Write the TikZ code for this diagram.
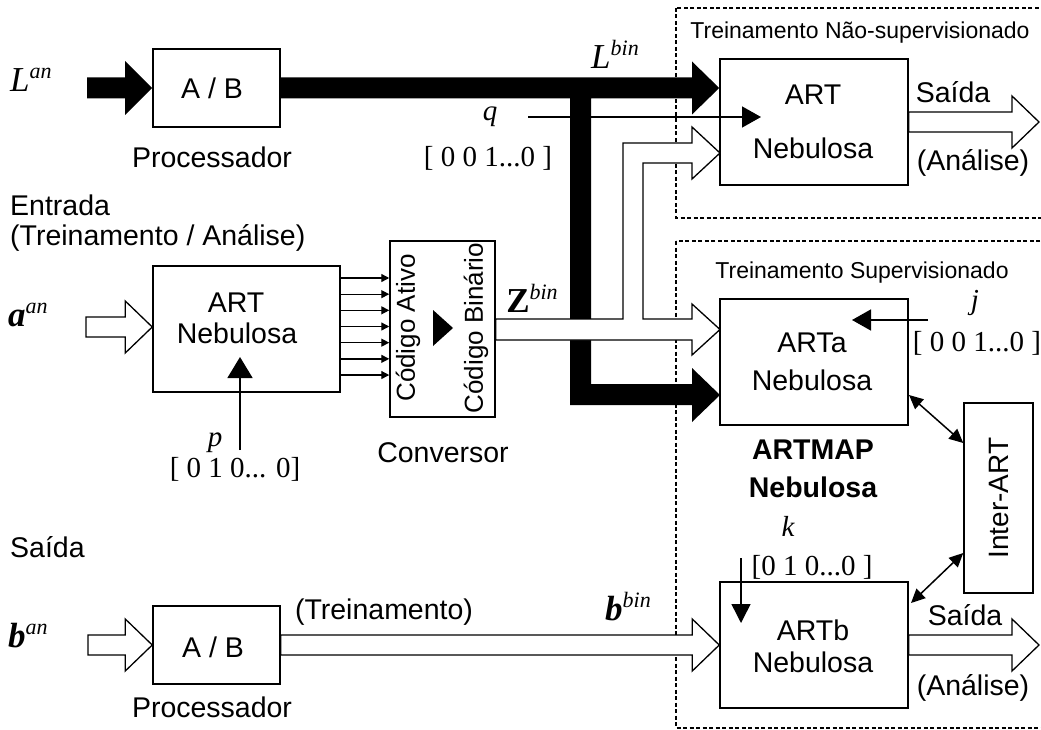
\documentclass[tikz,border=0pt]{standalone}
\usepackage{fontspec}
\setmainfont{Liberation Sans}
\newfontfamily\tm{Liberation Serif}
\usetikzlibrary{arrows.meta,calc}
\newcommand{\supl}[2]{{#1}\raisebox{13pt}{\fontsize{22}{22}\selectfont\mdseries\itshape #2}}
\newcommand{\harrow}[2]{\draw[hollow] ($(#1)+(0,-10)$) -- ($(#2)+(-27,-10)$) -- ($(#2)+(-27,-26)$) -- (#2) -- ($(#2)+(-27,26)$) -- ($(#2)+(-27,10)$) -- ($(#1)+(0,10)$) -- cycle;}
\begin{document}
\begin{tikzpicture}[x=1pt,y=-1pt,
  box/.style={draw, line width=1.5pt, inner sep=0pt, fill=white},
  lab/.style={font=\fontsize{28.5}{29}\selectfont, inner sep=0pt},
  blab/.style={font=\fontsize{28.5}{29}\selectfont\bfseries, inner sep=0pt},
  slab/.style={font=\fontsize{23}{24}\selectfont, inner sep=0pt},
  rlab/.style={font=\fontsize{26}{27}\selectfont, inner sep=0pt, rotate=90},
  tml/.style={font=\fontsize{29}{30}\selectfont\tm, inner sep=0pt},
  tmb/.style={font=\fontsize{35}{36}\selectfont\tm, inner sep=0pt},
  hollow/.style={draw, fill=white, line width=1.3pt, line join=miter},
  thinarr/.style={line width=1.5pt},
  dblarr/.style={line width=1.5pt, {Triangle[length=14pt,width=13pt]}-{Triangle[length=14pt,width=13pt]}},
  dashbox/.style={draw, line width=1.2pt, dash pattern=on 4pt off 2.5pt}]
\useasboundingbox (0,0) rectangle (1041,730);
\clip (0,0) rectangle (1041,730);

% dashed regions
\draw[dashbox] (676,8) rectangle (1060,218);
\draw[dashbox] (676,241) rectangle (1060,728);
\node[slab] (tns) at (860,33) {Treinamento Não-supervisionado};
\node[slab] (ts) at (862,273) {Treinamento Supervisionado};

% boxes
\node[box, minimum width=127pt, minimum height=78pt] (ab1) at (216.5,88) {};
\node[box, minimum width=187pt, minimum height=126pt] (art1) at (246.5,329) {};
\node[box, minimum width=105pt, minimum height=176pt] (conv) at (442.5,329) {};
\node[box, minimum width=188pt, minimum height=126pt] (artu) at (814,122) {};
\node[box, minimum width=188pt, minimum height=126pt] (arta) at (814,362) {};
\node[box, minimum width=188pt, minimum height=126pt] (artb) at (814,645) {};
\node[box, minimum width=69pt, minimum height=190pt] (inter) at (998.5,498) {};
\node[box, minimum width=127pt, minimum height=78pt] (ab2) at (216.5,645) {};

% box texts
\node[lab] (t-ab1) at (212,88) {A / B};
\node[lab] (t-proc1) at (212,157) {Processador};
\node[lab, anchor=west] (t-entr) at (10,205) {Entrada};
\node[lab, anchor=west] (t-ta) at (10,238) {(Treinamento / Análise)};
\node[lab] (t-art1a) at (236,303) {ART};
\node[lab] (t-art1b) at (237,333) {Nebulosa};
\node[rlab] (t-cat) at (408,328) {Código Ativo};
\node[rlab] (t-cbi) at (476,328) {Código Binário};
\node[lab] (t-conv) at (443,453) {Conversor};
\node[lab] (t-artu1) at (813,95) {ART};
\node[lab] (t-artu2) at (813,148) {Nebulosa};
\node[lab] (t-sai1) at (953,92) {Saída};
\node[lab] (t-ana1) at (973,163) {(Análise)};
\node[lab] (t-arta1) at (812,343) {ARTa};
\node[lab] (t-arta2) at (812,380) {Nebulosa};
\node[blab] (t-am1) at (813,450) {ARTMAP};
\node[blab] (t-am2) at (813,487) {Nebulosa};
\node[rlab, font=\fontsize{28}{29}\selectfont] (t-inter) at (998.5,498) {Inter-ART};
\node[lab] (t-artb1) at (813,630) {ARTb};
\node[lab] (t-artb2) at (813,662) {Nebulosa};
\node[lab] (t-sai2) at (965,615) {Saída};
\node[lab] (t-ana2) at (973,688) {(Análise)};
\node[lab, anchor=west] (t-sai0) at (10,547) {Saída};
\node[lab] (t-trein) at (384,612) {(Treinamento)};
\node[lab] (t-ab2) at (213,647) {A / B};
\node[lab] (t-proc2) at (212,707) {Processador};

% math-like labels
\node[tmb, anchor=west] (l-lan) at (10,80) {\supl{\itshape L}{an}};
\node[tmb] (l-lbin) at (615,54) {\supl{\itshape L}{bin}};
\node[tmb, anchor=west] (l-aan) at (8,315) {\supl{\bfseries\itshape a}{an}};
\node[tmb, anchor=west] (l-ban) at (8,636) {\supl{\bfseries\itshape b}{an}};
\node[tmb] (l-zbin) at (532,298) {\supl{\bfseries Z}{bin}};
\node[tmb] (l-bbin) at (628,607) {\supl{\bfseries\itshape b}{bin}};
\node[tml] (l-q) at (490,117) {\itshape q};
\node[tml] (l-qv) at (488,158) {[ 0 0 1...0 ]};
\node[tml] (l-p) at (215,443) {\itshape p};
\node[tml] (l-pv) at (235,469) {[ 0 1 0... 0]};
\node[tml] (l-j) at (975,303) {\itshape j};
\node[tml] (l-jv) at (977,343) {[ 0 0 1...0 ]};
\node[tml] (l-k) at (788,526) {\itshape k};
\node[tml] (l-kv) at (812,567) {[0 1 0...0 ]};

% black L arrows
\coordinate (lin) at (87,88);
\fill[black] ($(lin)+(0,-10.5)$) -- (125,77.5) -- (125,61) -- (ab1.west) -- (125,115) -- (125,98.5) -- ($(lin)+(0,10.5)$) -- cycle;
\fill[black] ($(ab1.east)+(0,-10.5)$) -- (692,77.5) -- (692,61.5) -- (artu.west |- ab1.east) -- (692,114.5) -- (692,98.5) -- (591,98.5) -- (591,384) -- (692,384) -- (692,368) -- (720,395) -- (692,422) -- (692,405) -- (570,405) -- (570,98.5) -- ($(ab1.east)+(0,10.5)$) -- cycle;

% Z^bin hollow arrow (branched)
\draw[hollow] (conv.east |- 0,319) -- (623,319) -- (623,143) -- (692,143) -- (692,127) -- (720,153) -- (692,179) -- (692,163) -- (643,163) -- (643,319) -- (692,319) -- (692,304) -- (720,329.5) -- (692,355) -- (692,340) -- (conv.east |- 0,340) -- cycle;

% other hollow arrows
\coordinate (ain) at (86,327);
\coordinate (atip) at (art1.west |- ain);
\harrow{ain}{atip}
\coordinate (bin) at (88,645);
\harrow{bin}{ab2.west}
\harrow{ab2.east}{artb.west}
\coordinate (out1) at (1039,122);
\harrow{artu.east}{out1}
\coordinate (out2) at (1039,645);
\harrow{artb.east}{out2}

% seven parallel arrows
\foreach \i in {0,...,6}{
  \pgfmathsetmacro\yy{278+\i*16.17}
  \draw[line width=1.3pt, -{Triangle[length=8pt,width=8pt]}] (art1.east |- 0,\yy) -- (conv.west |- 0,\yy);
}
% converter triangle
\fill (433,310) -- (453,328) -- (433,346) -- cycle;

% control inputs
\coordinate (qs) at (528,117);
\coordinate (qe) at (761,117);
\draw[thinarr, -{Triangle[length=19pt,width=21pt]}] (qs) -- (qe);
\coordinate (ps) at (240,450);
\coordinate (pe) at (240,357);
\draw[thinarr, -{Triangle[length=21pt,width=25pt]}] (ps) -- (pe);
\coordinate (js) at (928,320);
\coordinate (je) at (852,320);
\draw[thinarr, -{Triangle[length=19pt,width=21pt]}] (js) -- (je);
\coordinate (ks) at (741,558);
\coordinate (ke) at (741,623);
\draw[thinarr, -{Triangle[length=19pt,width=19pt]}] (ks) -- (ke);

% inter-ART links
\coordinate (ia1) at (909,395);
\coordinate (ia2) at (inter.west |- 0,443);
\draw[dblarr] (ia1) -- (ia2);
\coordinate (ib1) at (inter.west |- 0,553);
\coordinate (ib2) at (911,603);
\draw[dblarr] (ib1) -- (ib2);
\end{tikzpicture}
\end{document}
